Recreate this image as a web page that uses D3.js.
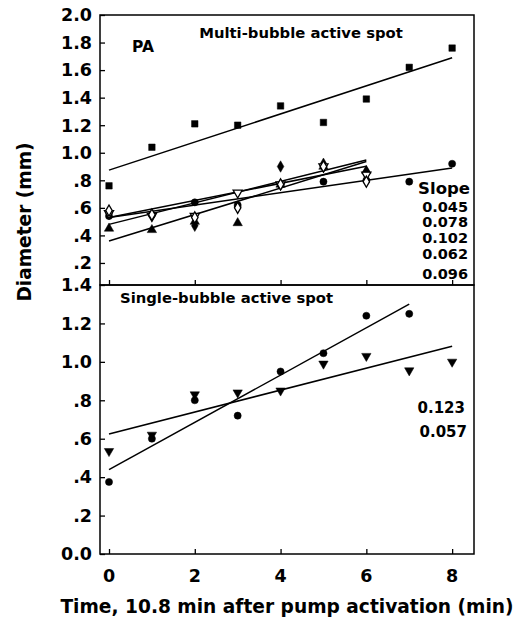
<!DOCTYPE html>
<html lang="en">
<head>
  <meta charset="UTF-8" />
  <title>Bubble diameter vs time</title>
  <script src="https://d3js.org/d3.v7.min.js"></script>
  <style>
    body {
      margin: 0;
      padding: 0;
      background-color: #fff;
    }
    svg text {
      font-family: "DejaVu Sans", Verdana, sans-serif;
      font-weight: bold;
      fill: #000;
    }
  </style>
</head>
<body>
  <svg width="517" height="626"></svg>

  <script>
    // multi-bubble active spot (top panel)
    const timeLong = [0, 1, 2, 3, 4, 5, 6, 7, 8];
    const timeShort = [0, 1, 2, 3, 4, 5, 6];
    const squareVals = [0.76, 1.04, 1.21, 1.20, 1.34, 1.22, 1.39, 1.62, 1.76];
    const circleVals = [0.54, 0.55, 0.64, 0.62, 0.77, 0.79, 0.80, 0.79, 0.92];
    const triUpVals = [0.45, 0.44, 0.50, 0.49, 0.77, 0.90, 0.87];
    const diamondVals = [0.56, 0.55, 0.47, 0.61, 0.90, 0.92, 0.86];
    const triDownOpenVals = [0.56, 0.54, 0.54, 0.71, 0.77, 0.90, 0.84];
    const diamondOpenVals = [0.58, 0.55, 0.53, 0.60, 0.77, 0.90, 0.79];

    // fitted lines, top panel: slope, intercept, last x
    const topSlopes = [0.045, 0.078, 0.102, 0.062, 0.096];
    const topIntercepts = [0.53, 0.48, 0.874, 0.53, 0.36];
    const topLineEnd = [8, 6, 8, 6, 6];
    const topSlopeLabels = ["0.045", "0.078", "0.102", "0.062", "0.096"];

    // single-bubble active spot (bottom panel)
    const singleCircleX = [0, 1, 2, 3, 4, 5, 6, 7];
    const singleCircleVals = [0.375, 0.60, 0.80, 0.72, 0.95, 1.045, 1.24, 1.25];
    const singleTriX = [0, 1, 2, 3, 4, 5, 6, 7, 8];
    const singleTriVals = [0.535, 0.62, 0.83, 0.84, 0.85, 0.99, 1.03, 0.955, 1.0];
    const bottomSlopes = [0.123, 0.057];
    const bottomIntercepts = [0.439, 0.625];
    const bottomLineEnd = [7, 8];
    const bottomSlopeLabels = ["0.123", "0.057"];

    const xTicks = [0, 2, 4, 6, 8];
    const topTicks = [0.2, 0.4, 0.6, 0.8, 1.0, 1.2, 1.4, 1.6, 1.8, 2.0];
    const topTickLabels = [".2", ".4", ".6", ".8", "1.0", "1.2", "1.4", "1.6", "1.8", "2.0"];
    const bottomTicks = [0, 0.2, 0.4, 0.6, 0.8, 1.0, 1.2, 1.4];
    const bottomTickLabels = ["0.0", ".2", ".4", ".6", ".8", "1.0", "1.2", "1.4"];

    const svg = d3.select("svg");
    const left = 100, right = 474;
    const topY0 = 15, mid = 285, bottomY1 = 554;

    const x = d3.scaleLinear().domain([-0.21, 8.51]).range([left, right]);
    const yTop = d3.scaleLinear().domain([0.04, 2.0]).range([mid, topY0]);
    const yBot = d3.scaleLinear().domain([0, 1.4]).range([bottomY1, mid]);

    // frames
    svg.append("rect").attr("x", left).attr("y", topY0)
      .attr("width", right - left).attr("height", mid - topY0)
      .attr("fill", "none").attr("stroke", "#000").attr("stroke-width", 1.5);
    svg.append("rect").attr("x", left).attr("y", mid)
      .attr("width", right - left).attr("height", bottomY1 - mid)
      .attr("fill", "none").attr("stroke", "#000").attr("stroke-width", 1.5);

    // axes (ticks inside)
    function yAxis(scale, ticks, labels) {
      const g = svg.append("g").attr("transform", `translate(${left},0)`)
        .call(d3.axisRight(scale).tickValues(ticks).tickSize(5).tickFormat(""));
      g.select(".domain").remove();
      g.selectAll("line").attr("stroke-width", 1.3);
      svg.append("g").selectAll("text")
        .data(ticks).enter().append("text")
        .attr("x", 92)
        .attr("y", d => scale(d))
        .attr("dy", "0.36em")
        .attr("text-anchor", "end")
        .style("font-size", "17.5px")
        .text((d, i) => labels[i]);
    }
    yAxis(yTop, topTicks, topTickLabels);
    yAxis(yBot, bottomTicks, bottomTickLabels);

    function xAxis(yPos) {
      const g = svg.append("g").attr("transform", `translate(0,${yPos})`)
        .call(d3.axisTop(x).tickValues(xTicks).tickSize(5).tickFormat(""));
      g.select(".domain").remove();
      g.selectAll("line").attr("stroke-width", 1.3);
    }
    xAxis(mid);
    xAxis(bottomY1);

    svg.append("g").selectAll("text")
      .data(xTicks).enter().append("text")
      .attr("x", d => x(d))
      .attr("y", 582)
      .attr("text-anchor", "middle")
      .style("font-size", "17.5px")
      .text(d => d);

    // axis titles
    svg.append("text")
      .attr("x", 287).attr("y", 613)
      .attr("text-anchor", "middle")
      .style("font-size", "18.6px")
      .text("Time, 10.8 min after pump activation (min)");
    svg.append("text")
      .attr("transform", "translate(31,222) rotate(-90)")
      .attr("text-anchor", "middle")
      .style("font-size", "18.6px")
      .text("Diameter (mm)");

    // panel texts
    svg.append("text").attr("x", 301).attr("y", 38)
      .attr("text-anchor", "middle").style("font-size", "14.8px")
      .text("Multi-bubble active spot");
    svg.append("text").attr("x", 132).attr("y", 52)
      .style("font-size", "15.5px").text("PA");
    svg.append("text").attr("x", 120).attr("y", 303)
      .style("font-size", "14.8px").text("Single-bubble active spot");

    svg.append("text").attr("x", 470).attr("y", 194)
      .attr("text-anchor", "end").style("font-size", "16.5px").text("Slope");
    const topLabelY = [211.5, 227, 243, 258.5, 279];
    svg.append("g").selectAll("text")
      .data(topSlopeLabels).enter().append("text")
      .attr("x", 468)
      .attr("y", (d, i) => topLabelY[i])
      .attr("text-anchor", "end")
      .style("font-size", "14.5px")
      .text(d => d);
    const bottomLabelY = [412.5, 437];
    svg.append("g").selectAll("text")
      .data(bottomSlopeLabels).enter().append("text")
      .attr("x", (d, i) => i === 0 ? 465 : 467)
      .attr("y", (d, i) => bottomLabelY[i])
      .attr("text-anchor", "end")
      .style("font-size", "15px")
      .text(d => d);

    // regression lines
    function fitLines(scale, slopes, intercepts, ends) {
      svg.append("g").selectAll("line")
        .data(slopes).enter().append("line")
        .attr("x1", x(0))
        .attr("y1", (d, i) => scale(intercepts[i]))
        .attr("x2", (d, i) => x(ends[i]))
        .attr("y2", (d, i) => scale(intercepts[i] + d * ends[i]))
        .attr("stroke", "#000")
        .attr("stroke-width", 1.5);
    }
    fitLines(yTop, topSlopes, topIntercepts, topLineEnd);
    fitLines(yBot, bottomSlopes, bottomIntercepts, bottomLineEnd);

    // markers
    function markers(scale, xs, ys, type, size, open, rot) {
      const sym = d3.symbol().type(type).size(size);
      svg.append("g").selectAll("path")
        .data(ys).enter().append("path")
        .attr("d", sym)
        .attr("transform", (d, i) => `translate(${x(xs[i])},${scale(d)}) rotate(${rot || 0})`)
        .attr("fill", open ? "#fff" : "#000")
        .attr("stroke", "#000")
        .attr("stroke-width", open ? 1.3 : 0.5);
    }
    markers(yTop, timeLong, squareVals, d3.symbolSquare, 42, false);
    markers(yTop, timeLong, circleVals, d3.symbolCircle, 40, false);
    markers(yTop, timeShort, triUpVals, d3.symbolTriangle, 38, false);
    markers(yTop, timeShort, diamondVals, d3.symbolDiamond, 38, false);
    markers(yTop, timeShort, triDownOpenVals, d3.symbolTriangle, 36, true, 180);
    markers(yTop, timeShort, diamondOpenVals, d3.symbolDiamond, 36, true);

    markers(yBot, singleCircleX, singleCircleVals, d3.symbolCircle, 40, false);
    markers(yBot, singleTriX, singleTriVals, d3.symbolTriangle, 38, false, 180);
  </script>
</body>
</html>
